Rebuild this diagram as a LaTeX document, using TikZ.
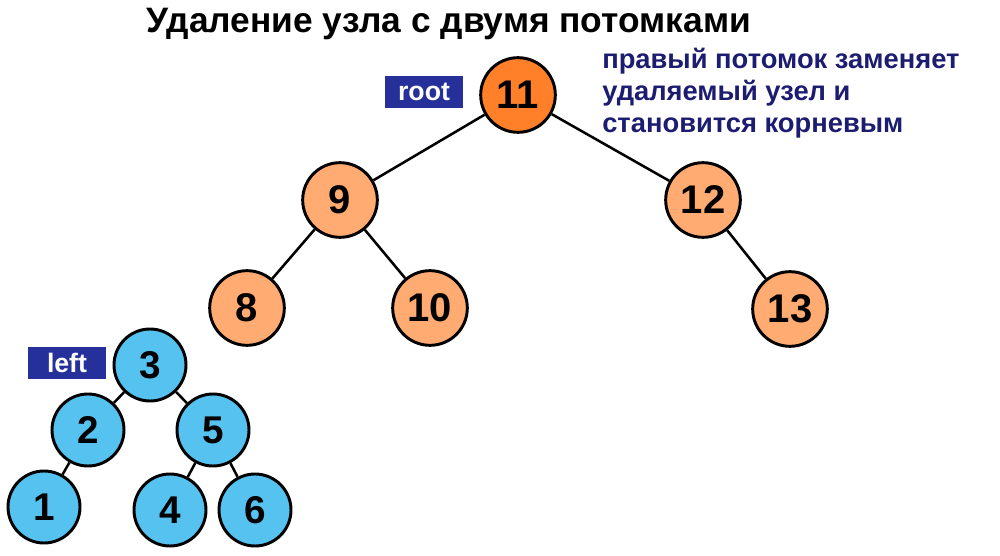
\documentclass[tikz,border=0pt]{standalone}
\usepackage{fontspec}
\setmainfont{Liberation Sans}
\usepackage{xcolor}
\definecolor{rootorange}{HTML}{FF8028}
\definecolor{peach}{HTML}{FFAB72}
\definecolor{skyblue}{HTML}{55C2EF}
\definecolor{tagblue}{HTML}{25309A}
\definecolor{navytext}{HTML}{1C1C70}

\begin{document}
\begin{tikzpicture}[x=0.75pt,y=-0.75pt,
	vertex/.style={circle,draw=black,line width=2.2pt,minimum size=56pt,inner sep=0pt,font=\fontsize{30}{30}\bfseries},
	small/.style={vertex,minimum size=54pt,font=\fontsize{29}{29}\bfseries},
	tag/.style={fill=tagblue,text=white,font=\fontsize{20}{20}\bfseries,minimum width=59pt,minimum height=24pt,inner sep=0pt},
	link/.style={line width=1.9pt}]
	\useasboundingbox (0,0) rectangle (1000,556);

	\node (title) at (449,24) {\fontsize{26.5}{26.5}\bfseries Удаление узла с двумя потомками};
	\node[text=navytext,align=left,anchor=north west,inner sep=0pt,font=\fontsize{20.5}{24}\bfseries] (note) at (602,48)
		{правый потомок заменяет\\удаляемый узел и\\становится корневым};

	% big tree
	\node[vertex,fill=rootorange] (n11) at (518,95) {11};
	\node[vertex,fill=peach] (n9)  at (340,200) {9};
	\node[vertex,fill=peach] (n12) at (703,200) {12};
	\node[vertex,fill=peach] (n8)  at (247,308) {8};
	\node[vertex,fill=peach] (n10) at (430,308) {10};
	\node[vertex,fill=peach] (n13) at (790,309) {13};
	\node[tag] (root) at (424,92) {root};

	% left subtree
	\node[small,fill=skyblue] (n3) at (150,365) {3};
	\node[small,fill=skyblue] (n2) at (88,430) {2};
	\node[small,fill=skyblue] (n5) at (213,430) {5};
	\node[small,fill=skyblue] (n1) at (44,507) {1};
	\node[small,fill=skyblue] (n4) at (170,510) {4};
	\node[small,fill=skyblue] (n6) at (255,510) {6};
	\node[tag] (left) at (67,363) {left};

	\path[link]
	(n11) edge (n9)
	(n11) edge (n12)
	(n9) edge (n8)
	(n9) edge (n10)
	(n12) edge (n13)
	(n3) edge (n2)
	(n3) edge (n5)
	(n2) edge (n1)
	(n5) edge (n4)
	(n5) edge (n6)
	;
\end{tikzpicture}
\end{document}
